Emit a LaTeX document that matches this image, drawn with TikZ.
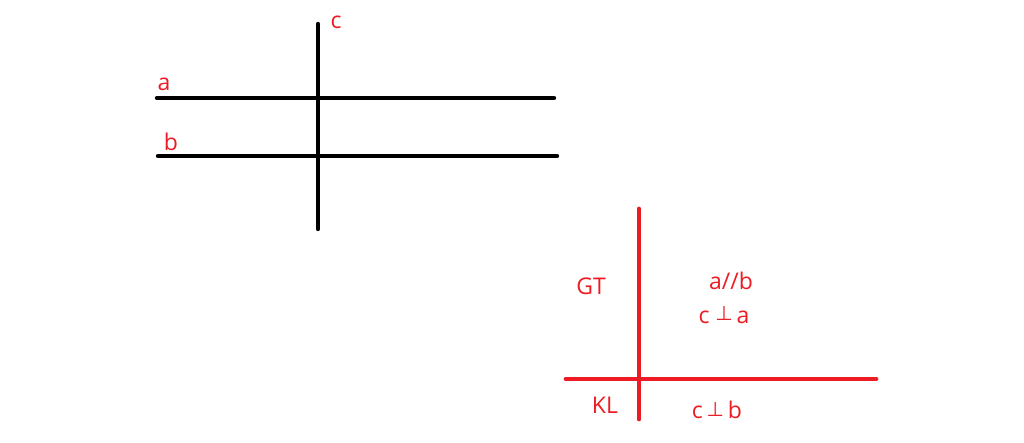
\documentclass[tikz,border=0pt]{standalone}
\usepackage{fontspec}
\setmainfont{Open Sans}
\newfontfamily\symfont{DejaVu Sans}
\definecolor{pred}{RGB}{237,28,36}
\begin{document}
\begin{tikzpicture}[x=1pt,y=-1pt,
  blk/.style={line width=4.4pt,black,line cap=round},
  redl/.style={line width=4.8pt,pred,line cap=round},
  lbl/.style={text=pred,inner sep=0pt,font=\fontsize{23}{26}\selectfont}]
\useasboundingbox (0,0) rectangle (1024,443);
\fill[white] (0,0) rectangle (1024,443);
% black figure
\coordinate (a1) at (157,98); \coordinate (a2) at (554,98);
\coordinate (b1) at (158,156); \coordinate (b2) at (557,156);
\coordinate (c1) at (318,24); \coordinate (c2) at (318,229);
\draw[blk] (a1) -- (a2);
\draw[blk] (b1) -- (b2);
\draw[blk] (c1) -- (c2);
\node[lbl] (la) at (164,84) {a};
\node[lbl] (lb) at (171,142) {b};
\node[lbl] (lc) at (336,22) {c};
% red figure
\coordinate (v1) at (639,209); \coordinate (v2) at (639,419);
\coordinate (h1) at (566,379); \coordinate (h2) at (876,379);
\draw[redl] (v1) -- (v2);
\draw[redl] (h1) -- (h2);
\node[lbl] (gt) at (591,286) {GT};
\node[lbl] (kl) at (605,405) {KL};
\node[lbl] (ab) at (731,281) {a//b};
\node[lbl] (ca) at (724,315) {c {\symfont\fontsize{20}{22}\selectfont\raisebox{2.5pt}{⊥}}\,a};
\node[lbl] (cb) at (717,410) {c\,{\symfont\fontsize{20}{22}\selectfont\raisebox{2.5pt}{⊥}}\,b};
\end{tikzpicture}
\end{document}
